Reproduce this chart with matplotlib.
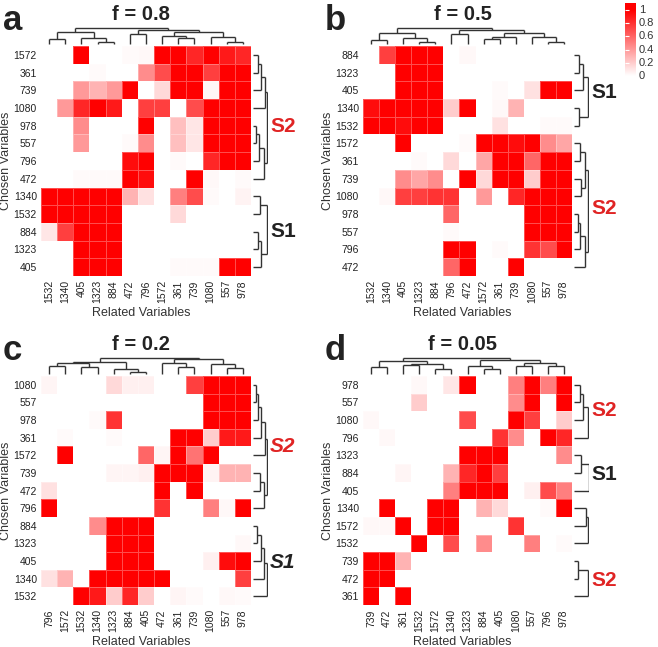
import numpy as np
import matplotlib
matplotlib.use('Agg')
import matplotlib.pyplot as plt
from matplotlib.colors import LinearSegmentedColormap
from matplotlib.collections import LineCollection

plt.rcParams['font.family'] = ['Liberation Sans', 'DejaVu Sans']

# ---------------- data ----------------
a_title = "f = 0.8"
a_rows = ["1572", "361", "739", "1080", "978", "557", "796", "472", "1340", "1532", "884", "1323", "405"]
a_cols = ["1532", "1340", "405", "1323", "884", "472", "796", "1572", "361", "739", "1080", "557", "978"]
a_vals = [
    [0, 0, 1, 0, 0, 0.02, 0.03, 1, 1, 0.85, 1, 0.9, 0.85],
    [0, 0, 0, 0.02, 0, 0, 0.45, 0.7, 1, 1, 0.75, 1, 1],
    [0, 0, 0.4, 0.3, 0.4, 1, 0, 0.15, 1, 1, 0.03, 1, 1],
    [0, 0.4, 0.85, 1, 0.9, 0, 0.75, 0.75, 0, 0.7, 1, 1, 1],
    [0, 0, 0.45, 0, 0, 0, 1, 0, 0.25, 0.1, 1, 1, 1],
    [0, 0, 0.4, 0, 0, 0.02, 0.45, 0, 0.25, 0.1, 1, 1, 1],
    [0, 0, 0, 0, 0, 0.95, 1, 0, 0.02, 0, 0.85, 1, 1],
    [0, 0, 0.02, 0.02, 0.02, 1, 0.95, 0, 0, 1, 0.03, 0, 0.02],
    [1, 1, 1, 1, 1, 0.3, 0.12, 0, 0.5, 0.7, 0.02, 0, 0.05],
    [1, 1, 1, 1, 1, 0, 0, 0, 0.15, 0, 0, 0, 0],
    [0.1, 0.75, 1, 1, 1, 0, 0, 0, 0, 0, 0, 0, 0],
    [0, 0, 1, 1, 1, 0, 0, 0, 0, 0, 0, 0, 0],
    [0, 0, 1, 1, 1, 0, 0, 0, 0.02, 0.02, 0.02, 1, 1],
]
a_col_tree = [(0, 1, 0.3), (3, 4, 0.1), (2, 14, 0.4), (13, 15, 0.72), (5, 6, 0.6),
              (8, 9, 0.36), (7, 18, 0.53), (11, 12, 0.1), (10, 20, 0.45), (19, 21, 0.75),
              (17, 22, 0.88), (16, 23, 1.0)]
a_row_tree = [(0, 1, 0.35), (13, 2, 0.55), (14, 3, 0.8), (4, 5, 0.2), (16, 6, 0.4),
              (17, 7, 0.7), (15, 18, 0.95), (8, 9, 0.45), (10, 11, 0.3), (21, 12, 0.55),
              (20, 22, 0.95), (19, 23, 1.5)]

b_title = "f = 0.5"
b_rows = ["884", "1323", "405", "1340", "1532", "1572", "361", "739", "1080", "978", "557", "796", "472"]
b_cols = ["1532", "1340", "405", "1323", "884", "796", "472", "1572", "361", "739", "1080", "557", "978"]
b_vals = [
    [0, 0.75, 1, 1, 1, 0, 0.03, 0, 0, 0, 0, 0, 0],
    [0, 0, 1, 1, 1, 0, 0, 0, 0, 0, 0, 0, 0],
    [0, 0, 1, 1, 1, 0, 0, 0, 0.02, 0, 0.12, 1, 1],
    [0.95, 1, 1, 1, 1, 0.2, 1, 0, 0.03, 0.3, 0, 0, 0],
    [1, 1, 0.95, 1, 1, 0, 0, 0, 0.12, 0, 0, 0.02, 0.02],
    [0, 0, 1, 0, 0, 0, 0.02, 1, 1, 0.95, 1, 0.45, 0.35],
    [0, 0, 0, 0.02, 0, 0.15, 0, 0.35, 1, 1, 0.6, 1, 1],
    [0, 0, 0.45, 0.35, 0.45, 0, 1, 0.15, 1, 1, 0.2, 1, 1],
    [0, 0.03, 0.75, 0.75, 0.8, 0.8, 0, 0.4, 0, 0.85, 1, 1, 1],
    [0, 0, 0, 0, 0, 0.6, 0, 0, 0, 0, 1, 1, 1],
    [0, 0, 0, 0, 0, 0.02, 0, 0, 0, 0, 1, 1, 1],
    [0, 0, 0, 0, 0, 1, 1, 0, 0.02, 0, 0.8, 0.7, 1],
    [0, 0, 0, 0, 0, 0.6, 1, 0, 0, 1, 0, 0, 0],
]
b_col_tree = [(0, 1, 0.25), (3, 4, 0.12), (2, 14, 0.35), (13, 15, 0.7), (5, 6, 0.6),
              (7, 8, 0.3), (18, 9, 0.45), (11, 12, 0.12), (10, 20, 0.45), (19, 21, 0.7),
              (17, 22, 0.85), (16, 23, 1.0)]
b_row_tree = [(0, 1, 0.3), (13, 2, 0.6), (3, 4, 0.3), (14, 15, 0.92), (5, 6, 0.4),
              (7, 8, 0.45), (17, 18, 0.7), (9, 10, 0.25), (20, 11, 0.4), (21, 12, 0.75),
              (19, 22, 0.95), (16, 23, 1.5)]

c_title = "f = 0.2"
c_rows = ["1080", "557", "978", "361", "1572", "739", "472", "796", "884", "1323", "405", "1340", "1532"]
c_cols = ["796", "1572", "1532", "1340", "1323", "884", "405", "472", "361", "739", "1080", "557", "978"]
c_vals = [
    [0.04, 0, 0, 0, 0.15, 0.06, 0.06, 0, 0, 0.75, 1, 1, 1],
    [0, 0, 0, 0, 0, 0, 0, 0, 0, 0, 1, 1, 1],
    [0, 0, 0, 0.02, 0.8, 0, 0, 0, 0, 0, 1, 1, 1],
    [0, 0.02, 0, 0, 0.02, 0, 0, 0, 1, 1, 0.2, 0.9, 0.9],
    [0, 1, 0, 0, 0, 0, 0.6, 0.04, 1, 0.55, 1, 0, 0],
    [0, 0, 0, 0, 0.04, 0.04, 0.06, 1, 1, 1, 0.05, 0.3, 0.3],
    [0.12, 0, 0, 0, 0, 0, 0, 1, 0, 1, 0, 0, 0],
    [1, 0, 0, 0, 0, 0, 0, 0.8, 0, 0, 0.5, 0.03, 1],
    [0, 0, 0, 0.45, 1, 1, 1, 0, 0, 0, 0, 0, 0],
    [0, 0, 0, 0, 1, 1, 1, 0, 0, 0, 0, 0, 0.03],
    [0, 0, 0, 0, 1, 1, 1, 0, 0, 0, 0.06, 0.95, 1],
    [0.12, 0.3, 0, 1, 1, 1, 1, 1, 0, 0, 0, 0, 0.75],
    [0, 0, 1, 0.9, 0.2, 0.85, 0.2, 0, 0.04, 0.02, 0, 0.03, 0.02],
]
c_col_tree = [(0, 1, 0.49), (2, 3, 0.44), (13, 14, 0.67), (5, 6, 0.11), (4, 16, 0.29),
              (15, 17, 0.78), (8, 9, 0.44), (7, 19, 0.71), (11, 12, 0.38), (10, 21, 0.6),
              (20, 22, 0.93), (18, 23, 1.0)]
c_row_tree = [(0, 1, 0.2), (13, 2, 0.35), (14, 3, 0.5), (15, 4, 0.8), (5, 6, 0.45),
              (17, 7, 0.7), (16, 18, 0.93), (8, 9, 0.25), (20, 10, 0.55), (21, 11, 0.75),
              (22, 12, 0.93), (19, 23, 1.5)]

d_title = "f = 0.05"
d_rows = ["978", "557", "1080", "796", "1323", "884", "405", "1340", "1572", "1532", "739", "472", "361"]
d_cols = ["739", "472", "361", "1532", "1572", "1340", "1323", "884", "405", "1080", "557", "796", "978"]
d_vals = [
    [0, 0, 0, 0.03, 0, 0.1, 1, 0, 0, 0.5, 1, 0.5, 1],
    [0, 0, 0, 0.2, 0, 0, 0, 0, 0, 0.45, 1, 0, 1],
    [0.03, 0, 0, 0, 0, 0, 0.7, 0, 0, 1, 0.75, 0, 0.2],
    [0, 0.03, 0, 0, 0, 0, 0, 0, 0.8, 0.45, 0, 1, 0.85],
    [0, 0, 0, 0, 0, 0, 1, 1, 1, 0, 0, 0, 0.45],
    [0, 0, 0.04, 0, 0, 0.3, 0.85, 1, 0.75, 0, 0, 0, 0],
    [0, 0, 0, 0, 0, 0.5, 1, 1, 1, 0, 0.06, 0.7, 0.5],
    [0, 1, 0, 0, 1, 1, 0, 0.3, 0.15, 0, 0, 0.02, 1],
    [0.03, 0.03, 1, 0, 1, 1, 0, 0, 0, 0.8, 0, 0, 0],
    [0, 0, 0, 1, 0, 0.7, 0, 0.45, 0, 0, 0.5, 0, 0.02],
    [1, 1, 0.3, 0, 0, 0, 0, 0, 0, 0, 0, 0, 0],
    [1, 1, 0, 0, 0, 0, 0, 0, 0, 0, 0, 0, 0],
    [1, 0, 1, 0, 0, 0, 0, 0, 0, 0, 0, 0, 0],
]
d_col_tree = [(0, 1, 0.45), (2, 3, 0.58), (4, 5, 0.3), (14, 15, 0.63), (13, 16, 0.81),
              (7, 8, 0.3), (6, 18, 0.47), (9, 10, 0.47), (11, 12, 0.47), (20, 21, 0.7),
              (19, 22, 0.86), (17, 23, 1.0)]
d_row_tree = [(0, 1, 0.37), (13, 2, 0.58), (14, 3, 0.9), (4, 5, 0.48), (16, 6, 0.98),
              (7, 8, 0.8), (18, 9, 0.9), (10, 11, 0.27), (20, 12, 0.9),
              (15, 17, 1.3), (22, 19, 1.5), (23, 21, 1.7)]

cbar_ticks = [0, 0.2, 0.4, 0.6, 0.8, 1]
cbar_labels = ["0", "0.2", "0.4", "0.6", "0.8", "1"]

# ---------------- layout helpers ----------------
W, H = 658, 647
fig = plt.figure(figsize=(W / 100, H / 100), dpi=100)
cmap = LinearSegmentedColormap.from_list('wr', ['#FFFFFF', '#FF0000'])
TREE_C = '#333333'
TXT = '#222222'
RED = '#E02424'


def px_axes(x0, y0, x1, y1):
    return fig.add_axes([x0 / W, 1 - y1 / H, (x1 - x0) / W, (y1 - y0) / H])


def ftext(x, y, s, **kw):
    return fig.text(x / W, 1 - y / H, s, **kw)


def tree_segments(links, n, orient):
    pos = {i: i + 0.5 for i in range(n)}
    hgt = {i: 0.0 for i in range(n)}
    segs = []
    for k, (a, b, h) in enumerate(links):
        node = n + k
        pos[node] = (pos[a] + pos[b]) / 2
        hgt[node] = h
        for c in (a, b):
            if orient == 'top':
                segs.append([(pos[c], hgt[c]), (pos[c], h)])
            else:
                segs.append([(hgt[c], pos[c]), (h, pos[c])])
        if orient == 'top':
            segs.append([(pos[a], h), (pos[b], h)])
        else:
            segs.append([(h, pos[a]), (h, pos[b])])
    return segs


def panel(letter, title, rows, cols, vals, col_tree, row_tree, hx0, hy0, hx1, hy1,
          s_labels, italic=False):
    n = len(rows)
    m = len(cols)
    ax = px_axes(hx0, hy0, hx1, hy1)
    Z = np.array(vals, dtype=float)
    ax.pcolormesh(np.arange(m + 1), np.arange(n + 1), Z, cmap=cmap, vmin=0, vmax=1,
                  edgecolors=(1, 1, 1, 0.3), linewidth=0.4)
    ax.set_xlim(0, m)
    ax.set_ylim(n, 0)
    ax.set_xticks(np.arange(m) + 0.5)
    ax.set_xticklabels(cols, rotation=90, fontsize=7.5, color=TXT)
    ax.set_yticks(np.arange(n) + 0.5)
    ax.set_yticklabels(rows, fontsize=7.5, color=TXT)
    ax.tick_params(length=0, pad=3)
    for s in ax.spines.values():
        s.set_visible(False)

    # column dendrogram
    axc = px_axes(hx0, hy0 - 18, hx1, hy0 - 2)
    axc.add_collection(LineCollection(tree_segments(col_tree, m, 'top'),
                                      colors=TREE_C, linewidths=1.0, clip_on=False))
    axc.set_xlim(0, m)
    axc.set_ylim(0, 1.0)
    axc.axis('off')

    # row dendrogram (top merges clipped)
    axr = px_axes(hx1 + 2, hy0, hx1 + 17, hy1)
    axr.add_collection(LineCollection(tree_segments(row_tree, n, 'right'),
                                      colors=TREE_C, linewidths=1.0))
    axr.set_xlim(0, 1.0)
    axr.set_ylim(n, 0)
    axr.axis('off')

    cx = (hx0 + hx1) / 2 - 5
    ftext(cx, hy0 - 32, title, fontsize=14.5, fontweight='bold', color=TXT,
          ha='center', va='center')
    ftext(hx0 - 38, hy0 - 16, letter, fontsize=25, fontweight='bold', color=TXT,
          ha='left', va='baseline')
    ftext(cx, hy1 + 37, "Related Variables", fontsize=9, color='#333333',
          ha='center', va='center')
    ftext(hx0 - 35, (hy0 + hy1) / 2, "Chosen Variables", fontsize=9, color='#333333',
          ha='center', va='center', rotation=90)
    for (txt, yc, col) in s_labels:
        ftext(hx1 + 19, yc, txt, fontsize=15, fontweight='bold', color=col,
              ha='left', va='center', style='italic' if italic else 'normal')


panel('a', a_title, a_rows, a_cols, a_vals, a_col_tree, a_row_tree, 41, 46, 251, 276,
      [("S2", 126, RED), ("S1", 232, TXT)])
panel('b', b_title, b_rows, b_cols, b_vals, b_col_tree, b_row_tree, 363, 46, 572, 276,
      [("S1", 92, TXT), ("S2", 208, RED)])
panel('c', c_title, c_rows, c_cols, c_vals, c_col_tree, c_row_tree, 41, 376, 251, 605,
      [("S2", 446, RED), ("S1", 563, TXT)], italic=True)
panel('d', d_title, d_rows, d_cols, d_vals, d_col_tree, d_row_tree, 363, 376, 572, 605,
      [("S2", 410, RED), ("S1", 475, TXT), ("S2", 580, RED)])

# colour bar
top_px, bot_px = 3, 79
v_top = 1 + (10 - top_px) / 66.0
v_bot = -(bot_px - 76) / 66.0
cax = px_axes(625, top_px, 636, bot_px)
grad = np.clip(np.linspace(v_bot, v_top, 200), 0, 1).reshape(-1, 1)
cax.imshow(grad, cmap=cmap, vmin=0, vmax=1, aspect='auto', origin='lower',
           extent=[0, 1, v_bot, v_top])
cax.hlines(cbar_ticks, 0, 0.35, colors='white', linewidth=0.8)
cax.set_xlim(0, 1)
cax.set_ylim(v_bot, v_top)
cax.axis('off')
for t, lab in zip(cbar_ticks, cbar_labels):
    y_px = 76 - 66 * t
    ftext(639, y_px, lab, fontsize=8, color='#333333', ha='left', va='center')

fig.savefig('out.png', dpi=100)
